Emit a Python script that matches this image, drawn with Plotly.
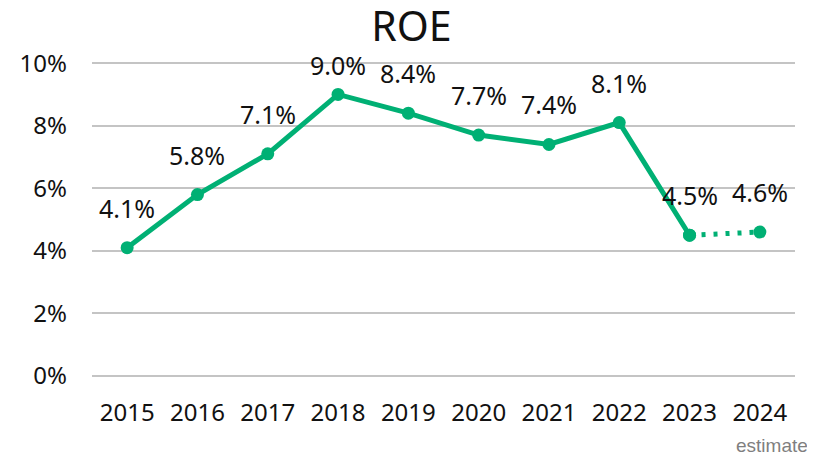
import plotly.graph_objects as go

years = ["2015", "2016", "2017", "2018", "2019", "2020", "2021", "2022", "2023", "2024"]
roe = [4.1, 5.8, 7.1, 9.0, 8.4, 7.7, 7.4, 8.1, 4.5, 4.6]
labels = ["4.1%", "5.8%", "7.1%", "9.0%", "8.4%", "7.7%", "7.4%", "8.1%", "4.5%", "4.6%"]
yticks = [0, 2, 4, 6, 8, 10]
ytick_labels = ["0%", "2%", "4%", "6%", "8%", "10%"]

green = "#00B074"
font_main = "Noto Sans, Open Sans, sans-serif"

W, H = 807, 448  # page body adds 8px offset
M_T, M_B = 52, 80
Y_MAX = 10.1
plot_h = H - M_T - M_B

fig = go.Figure()
fig.add_trace(go.Scatter(x=years[:9], y=roe[:9], mode="lines+markers",
                         line=dict(color=green, width=5),
                         marker=dict(color=green, size=13), showlegend=False))
fig.add_trace(go.Scatter(x=years[8:], y=roe[8:], mode="lines+markers",
                         line=dict(color=green, width=5, dash="4px,8px"),
                         marker=dict(color=green, size=13), showlegend=False))

# labels sit ~40px above the points, but are kept inside the chart near the top
for i, (v, t) in enumerate(zip(roe, labels)):
    px_from_top = M_T + plot_h * (1 - v / Y_MAX)
    shift = min(40, px_from_top - 57)
    fig.add_annotation(x=i, y=v, text=t, showarrow=False, yshift=shift,
                       font=dict(size=25, color="#111111", family=font_main))

fig.add_annotation(x=1, y=0, xref="paper", yref="paper", xanchor="right", yanchor="middle",
                   xshift=15, yshift=-69, text="estimate", showarrow=False,
                   font=dict(size=19, color="#7f7f7f", family="Liberation Sans, Arial, sans-serif"))

fig.update_layout(
    width=W, height=H,
    margin=dict(l=80, r=20, t=M_T, b=M_B),
    paper_bgcolor="white", plot_bgcolor="white",
    title=dict(text="ROE", x=0.5, xanchor="center", y=1 - 19 / H, yanchor="middle",
               font=dict(size=41, color="#111111", family=font_main)),
    xaxis=dict(type="category", categoryorder="array", categoryarray=years,
               range=[-0.5, 9.5], showgrid=False, showline=False, ticks="",
               tickfont=dict(size=24, color="#111111", family=font_main),
               ticklabelstandoff=20),
    yaxis=dict(range=[0, Y_MAX], tickvals=yticks, ticktext=ytick_labels,
               showgrid=True, gridcolor="#c4c4c4", gridwidth=1.5,
               zeroline=True, zerolinecolor="#c4c4c4", zerolinewidth=1.5,
               showline=False, ticks="",
               tickfont=dict(size=24, color="#111111", family=font_main),
               ticklabelstandoff=24),
)

fig.write_html("out.html")
